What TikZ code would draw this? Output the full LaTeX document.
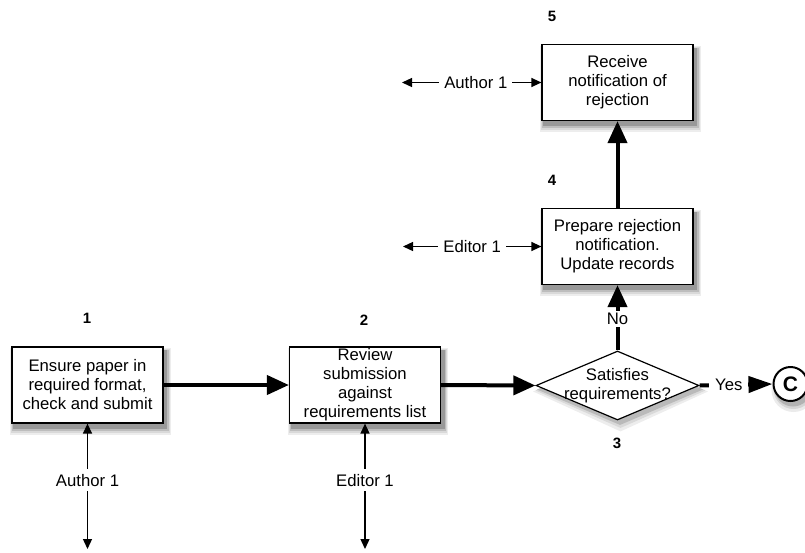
\documentclass[tikz,border=0pt]{standalone}
\usepackage{fontspec}
\setmainfont{Liberation Sans}
\usetikzlibrary{arrows.meta,shapes.geometric,backgrounds}
\begin{document}
\begin{tikzpicture}[x=1pt,y=-1pt,
  task/.style={draw,line width=1.2pt,fill=white,minimum width=151pt,minimum height=76pt,inner sep=0pt,align=center,
    font=\fontsize{16.7}{19}\selectfont},
  decision/.style={diamond,draw,line width=1.2pt,fill=white,minimum width=163pt,minimum height=69pt,inner sep=0pt},
  stepno/.style={font=\fontsize{15}{17}\selectfont\bfseries},
  txt/.style={font=\fontsize{16.7}{19}\selectfont,align=center},
  lane/.style={fill=white,inner sep=5pt,font=\fontsize{16.7}{19}\selectfont},
  flow/.style={line width=4pt,-{Triangle[length=22pt,width=19pt]}},
  role/.style={line width=1.3pt,{Triangle[length=10pt,width=9pt]}-{Triangle[length=10pt,width=9pt]}},
  connector/.style={circle,draw,line width=2pt,fill=white,minimum size=34pt,inner sep=0pt,
    font=\fontsize{21}{21}\selectfont\bfseries}]
\useasboundingbox (0,0) rectangle (805,552);

% process steps
\node[task] (b1) at (87.5,385) {Ensure paper in\\required format,\\check and submit};
\node[task] (b2) at (365,385) {Review\\submission\\against\\requirements list};
\node[decision] (d3) at (617.5,385.5) {};
\node[txt] (d3t) at (617.5,385.5) {Satisfies\\requirements?};
\node[task] (b4) at (617.5,246.5) {Prepare rejection\\notification.\\Update records};
\node[task] (b5) at (617.5,82.5) {Receive\\notification of\\rejection};
\node[connector] (c) at (790.5,384) {C};

% soft drop shadows, built from stacked grey layers
\begin{pgfonlayer}{background}
\foreach \n in {b1,b2,b4,b5} {
  \fill[black!7]  ([xshift=-1pt,yshift=-2pt]\n.north west) rectangle ([xshift=7pt,yshift=-11pt]\n.south east);
  \fill[black!15] ([xshift=0pt,yshift=-3pt]\n.north west) rectangle ([xshift=6pt,yshift=-9pt]\n.south east);
  \fill[black!26] ([xshift=1pt,yshift=-4pt]\n.north west) rectangle ([xshift=5pt,yshift=-7pt]\n.south east);
  \fill[black!40] ([xshift=2pt,yshift=-4pt]\n.north west) rectangle ([xshift=3.5pt,yshift=-5pt]\n.south east);
}
\node[diamond,fill=black!7,minimum width=175pt,minimum height=80pt,inner sep=0pt] at ([xshift=3pt,yshift=-6pt]d3.center) {};
\node[diamond,fill=black!15,minimum width=170pt,minimum height=75pt,inner sep=0pt] at ([xshift=3pt,yshift=-5pt]d3.center) {};
\node[diamond,fill=black!27,minimum width=166pt,minimum height=71pt,inner sep=0pt] at ([xshift=2.5pt,yshift=-4pt]d3.center) {};
\node[circle,fill=black!8,minimum size=44pt,inner sep=0pt] at ([xshift=3pt,yshift=-6pt]c.center) {};
\node[circle,fill=black!17,minimum size=40pt,inner sep=0pt] at ([xshift=3pt,yshift=-5pt]c.center) {};
\node[circle,fill=black!30,minimum size=37pt,inner sep=0pt] at ([xshift=2.5pt,yshift=-4pt]c.center) {};
\end{pgfonlayer}

% step numbers
\node[stepno] (n1) at (87,318) {1};
\node[stepno] (n2) at (364,320) {2};
\node[stepno] (n3) at (617,443) {3};
\node[stepno] (n4) at (552,180) {4};
\node[stepno] (n5) at (552,16) {5};

% main flow
\draw[flow] (b1.east) -- (b2.west);
\draw[flow] (b2.east) -- (d3.west);
\draw[flow] (d3.north) -- (b4.south) node[lane,pos=0.48,inner sep=2pt] (no) {No};
\draw[flow] (b4.north) -- (b5.south);
\draw[flow,-{Triangle[length=24pt,width=16pt]}] (d3.east) -- (c.west) node[lane,pos=0.4,inner sep=6pt] (yes) {Yes};

% roles
\coordinate (r1) at (87.5,549);
\coordinate (r2) at (365,549);
\coordinate (r4) at (403,246.5);
\coordinate (r5) at (402,82.5);
\draw[role] (b1.south) -- (r1) node[lane,pos=0.45] (a1) {Author 1};
\draw[role] (b2.south) -- (r2) node[lane,pos=0.45] (e1) {Editor 1};
\draw[role] (b4.west) -- (r4) node[lane,pos=0.5] (e4) {Editor 1};
\draw[role] (b5.west) -- (r5) node[lane,pos=0.47] (a5) {Author 1};
\end{tikzpicture}
\end{document}
